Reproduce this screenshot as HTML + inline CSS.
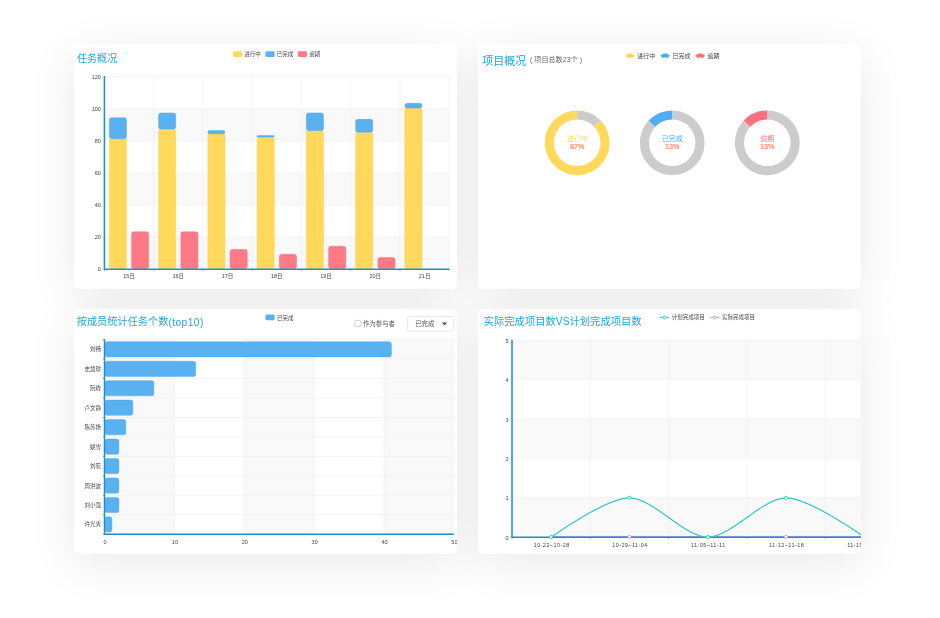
<!DOCTYPE html>
<html lang="zh-CN">
<head>
<meta charset="utf-8">
<title>项目统计</title>
<style>
html,body{margin:0;padding:0;}
body{width:940px;height:618px;overflow:hidden;background:#fff;position:relative;font-family:'Liberation Sans', 'Noto Sans CJK SC', sans-serif;}
.card{position:absolute;width:383px;height:245px;background:#fff;border-radius:5px;box-shadow:0 10px 48px rgba(0,0,0,.085);}
.cardface{position:absolute;width:383px;height:245px;background:#fff;border-radius:5px;}
svg.charts{position:absolute;left:0;top:0;}
svg.charts text{font-family:'Liberation Sans', 'Noto Sans CJK SC', sans-serif;filter:url(#soft);}
</style>
</head>
<body>
<div class="card" style="left:74px;top:44px"></div>
<div class="card" style="left:478px;top:44px"></div>
<div class="card" style="left:74px;top:309px"></div>
<div class="card" style="left:478px;top:309px"></div>
<div class="cardface" style="left:74px;top:44px"></div>
<div class="cardface" style="left:478px;top:44px"></div>
<div class="cardface" style="left:74px;top:309px"></div>
<div class="cardface" style="left:478px;top:309px"></div>
<svg class="charts" width="940" height="618" viewBox="0 0 940 618">
<defs><filter id="soft" x="-5%" y="-30%" width="110%" height="160%"><feGaussianBlur stdDeviation="2.6"/></filter></defs>
<svg x="74" y="44" width="383" height="245" viewBox="74 44 383 245">
<text transform="translate(76.9 58.1) scale(0.1)" font-size="101" fill="#1fa6de" text-anchor="start" dominant-baseline="central">任务概况</text>
<rect x="104.4" y="237.08" width="344.8" height="32.12" fill="#f9f9f9"/>
<rect x="104.4" y="172.85" width="344.8" height="32.12" fill="#f9f9f9"/>
<rect x="104.4" y="108.62" width="344.8" height="32.12" fill="#f9f9f9"/>
<line x1="104.4" y1="237.08" x2="449.2" y2="237.08" stroke="#eeeeee" stroke-width="0.6"/>
<line x1="104.4" y1="204.97" x2="449.2" y2="204.97" stroke="#eeeeee" stroke-width="0.6"/>
<line x1="104.4" y1="172.85" x2="449.2" y2="172.85" stroke="#eeeeee" stroke-width="0.6"/>
<line x1="104.4" y1="140.73" x2="449.2" y2="140.73" stroke="#eeeeee" stroke-width="0.6"/>
<line x1="104.4" y1="108.62" x2="449.2" y2="108.62" stroke="#eeeeee" stroke-width="0.6"/>
<line x1="104.4" y1="76.5" x2="449.2" y2="76.5" stroke="#eeeeee" stroke-width="0.6"/>
<line x1="153.66" y1="76.5" x2="153.66" y2="269.2" stroke="#eeeeee" stroke-width="0.6"/>
<line x1="202.91" y1="76.5" x2="202.91" y2="269.2" stroke="#eeeeee" stroke-width="0.6"/>
<line x1="252.17" y1="76.5" x2="252.17" y2="269.2" stroke="#eeeeee" stroke-width="0.6"/>
<line x1="301.43" y1="76.5" x2="301.43" y2="269.2" stroke="#eeeeee" stroke-width="0.6"/>
<line x1="350.69" y1="76.5" x2="350.69" y2="269.2" stroke="#eeeeee" stroke-width="0.6"/>
<line x1="399.94" y1="76.5" x2="399.94" y2="269.2" stroke="#eeeeee" stroke-width="0.6"/>
<line x1="449.2" y1="76.5" x2="449.2" y2="269.2" stroke="#eeeeee" stroke-width="0.6"/>
<text transform="translate(100.9 269.2) scale(0.1)" font-size="55" fill="#444" text-anchor="end" dominant-baseline="central">0</text>
<text transform="translate(100.9 237.08) scale(0.1)" font-size="55" fill="#444" text-anchor="end" dominant-baseline="central">20</text>
<text transform="translate(100.9 204.97) scale(0.1)" font-size="55" fill="#444" text-anchor="end" dominant-baseline="central">40</text>
<text transform="translate(100.9 172.85) scale(0.1)" font-size="55" fill="#444" text-anchor="end" dominant-baseline="central">60</text>
<text transform="translate(100.9 140.73) scale(0.1)" font-size="55" fill="#444" text-anchor="end" dominant-baseline="central">80</text>
<text transform="translate(100.9 108.62) scale(0.1)" font-size="55" fill="#444" text-anchor="end" dominant-baseline="central">100</text>
<text transform="translate(100.9 76.5) scale(0.1)" font-size="55" fill="#444" text-anchor="end" dominant-baseline="central">120</text>
<rect x="109.33" y="138.63" width="17.13" height="130.07" fill="#ffd85c" rx="2.2" stroke="#ffd044" stroke-width="0.45"/>
<rect x="109.33" y="117.75" width="17.13" height="20.88" fill="#5ab1ef" rx="2.2" stroke="#49a7ee" stroke-width="0.45"/>
<rect x="131.6" y="231.77" width="17.13" height="36.93" fill="#ff7a85" rx="2.2" stroke="#ff6675" stroke-width="0.45"/>
<rect x="158.58" y="128.99" width="17.13" height="139.71" fill="#ffd85c" rx="2.2" stroke="#ffd044" stroke-width="0.45"/>
<rect x="158.58" y="112.93" width="17.13" height="16.06" fill="#5ab1ef" rx="2.2" stroke="#49a7ee" stroke-width="0.45"/>
<rect x="180.86" y="231.77" width="17.13" height="36.93" fill="#ff7a85" rx="2.2" stroke="#ff6675" stroke-width="0.45"/>
<rect x="207.84" y="133.81" width="17.13" height="134.89" fill="#ffd85c" rx="2.2" stroke="#ffd044" stroke-width="0.45"/>
<rect x="207.84" y="130.6" width="17.13" height="3.21" fill="#5ab1ef" rx="1.61" stroke="#49a7ee" stroke-width="0.45"/>
<rect x="230.11" y="249.43" width="17.13" height="19.27" fill="#ff7a85" rx="2.2" stroke="#ff6675" stroke-width="0.45"/>
<rect x="257.1" y="137.02" width="17.13" height="131.68" fill="#ffd85c" rx="2.2" stroke="#ffd044" stroke-width="0.45"/>
<rect x="257.1" y="135.42" width="17.13" height="1.61" fill="#5ab1ef" rx="0.8" stroke="#49a7ee" stroke-width="0.45"/>
<rect x="279.37" y="254.25" width="17.13" height="14.45" fill="#ff7a85" rx="2.2" stroke="#ff6675" stroke-width="0.45"/>
<rect x="306.35" y="130.6" width="17.13" height="138.1" fill="#ffd85c" rx="2.2" stroke="#ffd044" stroke-width="0.45"/>
<rect x="306.35" y="112.93" width="17.13" height="17.66" fill="#5ab1ef" rx="2.2" stroke="#49a7ee" stroke-width="0.45"/>
<rect x="328.63" y="246.22" width="17.13" height="22.48" fill="#ff7a85" rx="2.2" stroke="#ff6675" stroke-width="0.45"/>
<rect x="355.61" y="132.2" width="17.13" height="136.5" fill="#ffd85c" rx="2.2" stroke="#ffd044" stroke-width="0.45"/>
<rect x="355.61" y="119.36" width="17.13" height="12.85" fill="#5ab1ef" rx="2.2" stroke="#49a7ee" stroke-width="0.45"/>
<rect x="377.88" y="257.46" width="17.13" height="11.24" fill="#ff7a85" rx="2.2" stroke="#ff6675" stroke-width="0.45"/>
<rect x="404.87" y="108.12" width="17.13" height="160.58" fill="#ffd85c" rx="2.2" stroke="#ffd044" stroke-width="0.45"/>
<rect x="404.87" y="103.3" width="17.13" height="4.82" fill="#5ab1ef" rx="2.2" stroke="#49a7ee" stroke-width="0.45"/>
<line x1="104.4" y1="269.2" x2="104.4" y2="270.8" stroke="#333" stroke-width="0.5"/>
<line x1="153.66" y1="269.2" x2="153.66" y2="270.8" stroke="#333" stroke-width="0.5"/>
<line x1="202.91" y1="269.2" x2="202.91" y2="270.8" stroke="#333" stroke-width="0.5"/>
<line x1="252.17" y1="269.2" x2="252.17" y2="270.8" stroke="#333" stroke-width="0.5"/>
<line x1="301.43" y1="269.2" x2="301.43" y2="270.8" stroke="#333" stroke-width="0.5"/>
<line x1="350.69" y1="269.2" x2="350.69" y2="270.8" stroke="#333" stroke-width="0.5"/>
<line x1="399.94" y1="269.2" x2="399.94" y2="270.8" stroke="#333" stroke-width="0.5"/>
<line x1="449.2" y1="269.2" x2="449.2" y2="270.8" stroke="#333" stroke-width="0.5"/>
<line x1="104.4" y1="76" x2="104.4" y2="269.7" stroke="#1490d3" stroke-width="1.5"/>
<line x1="103.9" y1="269.2" x2="449.2" y2="269.2" stroke="#1490d3" stroke-width="1.5"/>
<text transform="translate(129.03 276.3) scale(0.1)" font-size="55" fill="#444" text-anchor="middle" dominant-baseline="central">15日</text>
<text transform="translate(178.29 276.3) scale(0.1)" font-size="55" fill="#444" text-anchor="middle" dominant-baseline="central">16日</text>
<text transform="translate(227.54 276.3) scale(0.1)" font-size="55" fill="#444" text-anchor="middle" dominant-baseline="central">17日</text>
<text transform="translate(276.8 276.3) scale(0.1)" font-size="55" fill="#444" text-anchor="middle" dominant-baseline="central">18日</text>
<text transform="translate(326.06 276.3) scale(0.1)" font-size="55" fill="#444" text-anchor="middle" dominant-baseline="central">19日</text>
<text transform="translate(375.31 276.3) scale(0.1)" font-size="55" fill="#444" text-anchor="middle" dominant-baseline="central">20日</text>
<text transform="translate(424.57 276.3) scale(0.1)" font-size="55" fill="#444" text-anchor="middle" dominant-baseline="central">21日</text>
<rect x="233" y="51.3" width="9.2" height="5.6" fill="#ffd85c" rx="1.3"/>
<text transform="translate(244.3 54.4) scale(0.1)" font-size="55" fill="#444" text-anchor="start" dominant-baseline="central">进行中</text>
<rect x="265.4" y="51.3" width="9.2" height="5.6" fill="#5ab1ef" rx="1.3"/>
<text transform="translate(276.7 54.4) scale(0.1)" font-size="55" fill="#444" text-anchor="start" dominant-baseline="central">已完成</text>
<rect x="297.9" y="51.3" width="9.2" height="5.6" fill="#ff7a85" rx="1.3"/>
<text transform="translate(309.2 54.4) scale(0.1)" font-size="55" fill="#444" text-anchor="start" dominant-baseline="central">逾期</text>
</svg>
<svg x="478" y="44" width="383" height="245" viewBox="478 44 383 245">
<text transform="translate(482.2 60.7) scale(0.1)" font-size="110" fill="#1fa6de" text-anchor="start" dominant-baseline="central">项目概况</text>
<text transform="translate(530 60.2) scale(0.1)" font-size="71" fill="#666" text-anchor="start" dominant-baseline="central">( 项目总数23个 )</text>
<path d="M577.2 110.4A32.4 32.4 0 0 1 600.82 120.62L594.18 126.85A23.3 23.3 0 0 0 577.2 119.5Z" fill="#cccccc"/>
<path d="M600.82 120.62A32.4 32.4 0 1 1 577.2 110.4L577.2 119.5A23.3 23.3 0 1 0 594.18 126.85Z" fill="#ffd85c"/>
<text transform="translate(577.2 138.3) scale(0.1)" font-size="70" fill="#ffd85c" text-anchor="middle" dominant-baseline="central">进行中</text>
<text transform="translate(577.2 146.8) scale(0.1)" font-size="72" fill="#ff7f50" text-anchor="middle" dominant-baseline="central" stroke="#ff7f50" stroke-width="1.5">87%</text>
<path d="M672.2 110.4A32.4 32.4 0 1 1 648.58 120.62L655.22 126.85A23.3 23.3 0 1 0 672.2 119.5Z" fill="#cccccc"/>
<path d="M648.58 120.62A32.4 32.4 0 0 1 672.2 110.4L672.2 119.5A23.3 23.3 0 0 0 655.22 126.85Z" fill="#4eaef5"/>
<text transform="translate(672.2 138.3) scale(0.1)" font-size="70" fill="#4eaef5" text-anchor="middle" dominant-baseline="central">已完成</text>
<text transform="translate(672.2 146.8) scale(0.1)" font-size="72" fill="#ff7f50" text-anchor="middle" dominant-baseline="central" stroke="#ff7f50" stroke-width="1.5">13%</text>
<path d="M767.3 110.4A32.4 32.4 0 1 1 743.68 120.62L750.32 126.85A23.3 23.3 0 1 0 767.3 119.5Z" fill="#cccccc"/>
<path d="M743.68 120.62A32.4 32.4 0 0 1 767.3 110.4L767.3 119.5A23.3 23.3 0 0 0 750.32 126.85Z" fill="#ff6f7d"/>
<text transform="translate(767.3 138.3) scale(0.1)" font-size="70" fill="#ff6f7d" text-anchor="middle" dominant-baseline="central">逾期</text>
<text transform="translate(767.3 146.8) scale(0.1)" font-size="72" fill="#ff7f50" text-anchor="middle" dominant-baseline="central" stroke="#ff7f50" stroke-width="1.5">13%</text>
<path d="M625.4 55.5Q630 51.7 634.6 55.5L632.6 58Q630 56.4 627.4 58Z" fill="#ffd85c" stroke="#ffd85c" stroke-width="0.4" stroke-linejoin="round"/>
<text transform="translate(637.3 55.8) scale(0.1)" font-size="60" fill="#444" text-anchor="start" dominant-baseline="central">进行中</text>
<path d="M660.5 55.5Q665.1 51.7 669.7 55.5L667.7 58Q665.1 56.4 662.5 58Z" fill="#4eaef5" stroke="#4eaef5" stroke-width="0.4" stroke-linejoin="round"/>
<text transform="translate(672.4 55.8) scale(0.1)" font-size="60" fill="#444" text-anchor="start" dominant-baseline="central">已完成</text>
<path d="M695.6 55.5Q700.2 51.7 704.8 55.5L702.8 58Q700.2 56.4 697.6 58Z" fill="#ff6f7d" stroke="#ff6f7d" stroke-width="0.4" stroke-linejoin="round"/>
<text transform="translate(707.5 55.8) scale(0.1)" font-size="60" fill="#444" text-anchor="start" dominant-baseline="central">逾期</text>
</svg>
<svg x="74" y="309" width="383" height="245" viewBox="74 309 383 245">
<text transform="translate(76.7 321.9) scale(0.1)" font-size="102" fill="#1fa6de" text-anchor="start" dominant-baseline="central">按成员统计任务个数<tspan letter-spacing="4.4">(top10)</tspan></text>
<rect x="104.5" y="339.6" width="69.88" height="194.6" fill="#f9f9f9"/>
<rect x="244.26" y="339.6" width="69.88" height="194.6" fill="#f9f9f9"/>
<rect x="384.02" y="339.6" width="69.88" height="194.6" fill="#f9f9f9"/>
<line x1="174.38" y1="339.6" x2="174.38" y2="534.2" stroke="#eeeeee" stroke-width="0.6"/>
<line x1="244.26" y1="339.6" x2="244.26" y2="534.2" stroke="#eeeeee" stroke-width="0.6"/>
<line x1="314.14" y1="339.6" x2="314.14" y2="534.2" stroke="#eeeeee" stroke-width="0.6"/>
<line x1="384.02" y1="339.6" x2="384.02" y2="534.2" stroke="#eeeeee" stroke-width="0.6"/>
<line x1="453.9" y1="339.6" x2="453.9" y2="534.2" stroke="#eeeeee" stroke-width="0.6"/>
<line x1="104.5" y1="339.6" x2="453.9" y2="339.6" stroke="#eeeeee" stroke-width="0.6"/>
<line x1="104.5" y1="359.06" x2="453.9" y2="359.06" stroke="#eeeeee" stroke-width="0.6"/>
<line x1="104.5" y1="378.52" x2="453.9" y2="378.52" stroke="#eeeeee" stroke-width="0.6"/>
<line x1="104.5" y1="397.98" x2="453.9" y2="397.98" stroke="#eeeeee" stroke-width="0.6"/>
<line x1="104.5" y1="417.44" x2="453.9" y2="417.44" stroke="#eeeeee" stroke-width="0.6"/>
<line x1="104.5" y1="436.9" x2="453.9" y2="436.9" stroke="#eeeeee" stroke-width="0.6"/>
<line x1="104.5" y1="456.36" x2="453.9" y2="456.36" stroke="#eeeeee" stroke-width="0.6"/>
<line x1="104.5" y1="475.82" x2="453.9" y2="475.82" stroke="#eeeeee" stroke-width="0.6"/>
<line x1="104.5" y1="495.28" x2="453.9" y2="495.28" stroke="#eeeeee" stroke-width="0.6"/>
<line x1="104.5" y1="514.74" x2="453.9" y2="514.74" stroke="#eeeeee" stroke-width="0.6"/>
<rect x="105.1" y="341.73" width="286.31" height="15.2" fill="#5ab1ef" rx="2.2" stroke="#49a7ee" stroke-width="0.45"/>
<text transform="translate(100.9 349.33) scale(0.1)" font-size="55" fill="#444" text-anchor="end" dominant-baseline="central">刘畅</text>
<rect x="105.1" y="361.19" width="90.64" height="15.2" fill="#5ab1ef" rx="2.2" stroke="#49a7ee" stroke-width="0.45"/>
<text transform="translate(100.9 368.79) scale(0.1)" font-size="55" fill="#444" text-anchor="end" dominant-baseline="central">史慧璟</text>
<rect x="105.1" y="380.65" width="48.72" height="15.2" fill="#5ab1ef" rx="2.2" stroke="#49a7ee" stroke-width="0.45"/>
<text transform="translate(100.9 388.25) scale(0.1)" font-size="55" fill="#444" text-anchor="end" dominant-baseline="central">阮峰</text>
<rect x="105.1" y="400.11" width="27.75" height="15.2" fill="#5ab1ef" rx="2.2" stroke="#49a7ee" stroke-width="0.45"/>
<text transform="translate(100.9 407.71) scale(0.1)" font-size="55" fill="#444" text-anchor="end" dominant-baseline="central">卢文静</text>
<rect x="105.1" y="419.57" width="20.76" height="15.2" fill="#5ab1ef" rx="2.2" stroke="#49a7ee" stroke-width="0.45"/>
<text transform="translate(100.9 427.17) scale(0.1)" font-size="55" fill="#444" text-anchor="end" dominant-baseline="central">陈苏艳</text>
<rect x="105.1" y="439.03" width="13.78" height="15.2" fill="#5ab1ef" rx="2.2" stroke="#49a7ee" stroke-width="0.45"/>
<text transform="translate(100.9 446.63) scale(0.1)" font-size="55" fill="#444" text-anchor="end" dominant-baseline="central">姚雪</text>
<rect x="105.1" y="458.49" width="13.78" height="15.2" fill="#5ab1ef" rx="2.2" stroke="#49a7ee" stroke-width="0.45"/>
<text transform="translate(100.9 466.09) scale(0.1)" font-size="55" fill="#444" text-anchor="end" dominant-baseline="central">刘晓</text>
<rect x="105.1" y="477.95" width="13.78" height="15.2" fill="#5ab1ef" rx="2.2" stroke="#49a7ee" stroke-width="0.45"/>
<text transform="translate(100.9 485.55) scale(0.1)" font-size="55" fill="#444" text-anchor="end" dominant-baseline="central">周洪波</text>
<rect x="105.1" y="497.41" width="13.78" height="15.2" fill="#5ab1ef" rx="2.2" stroke="#49a7ee" stroke-width="0.45"/>
<text transform="translate(100.9 505.01) scale(0.1)" font-size="55" fill="#444" text-anchor="end" dominant-baseline="central">刘小强</text>
<rect x="105.1" y="516.87" width="6.79" height="15.2" fill="#5ab1ef" rx="2.2" stroke="#49a7ee" stroke-width="0.45"/>
<text transform="translate(100.9 524.47) scale(0.1)" font-size="55" fill="#444" text-anchor="end" dominant-baseline="central">许光秀</text>
<line x1="102.9" y1="339.6" x2="104.5" y2="339.6" stroke="#333" stroke-width="0.5"/>
<line x1="102.9" y1="359.06" x2="104.5" y2="359.06" stroke="#333" stroke-width="0.5"/>
<line x1="102.9" y1="378.52" x2="104.5" y2="378.52" stroke="#333" stroke-width="0.5"/>
<line x1="102.9" y1="397.98" x2="104.5" y2="397.98" stroke="#333" stroke-width="0.5"/>
<line x1="102.9" y1="417.44" x2="104.5" y2="417.44" stroke="#333" stroke-width="0.5"/>
<line x1="102.9" y1="436.9" x2="104.5" y2="436.9" stroke="#333" stroke-width="0.5"/>
<line x1="102.9" y1="456.36" x2="104.5" y2="456.36" stroke="#333" stroke-width="0.5"/>
<line x1="102.9" y1="475.82" x2="104.5" y2="475.82" stroke="#333" stroke-width="0.5"/>
<line x1="102.9" y1="495.28" x2="104.5" y2="495.28" stroke="#333" stroke-width="0.5"/>
<line x1="102.9" y1="514.74" x2="104.5" y2="514.74" stroke="#333" stroke-width="0.5"/>
<line x1="102.9" y1="534.2" x2="104.5" y2="534.2" stroke="#333" stroke-width="0.5"/>
<line x1="104.5" y1="339.1" x2="104.5" y2="534.7" stroke="#1490d3" stroke-width="1.5"/>
<line x1="104" y1="534.2" x2="453.9" y2="534.2" stroke="#1490d3" stroke-width="1.5"/>
<text transform="translate(105 541.7) scale(0.1)" font-size="55" fill="#444" text-anchor="middle" dominant-baseline="central">0</text>
<text transform="translate(174.88 541.7) scale(0.1)" font-size="55" fill="#444" text-anchor="middle" dominant-baseline="central">10</text>
<text transform="translate(244.76 541.7) scale(0.1)" font-size="55" fill="#444" text-anchor="middle" dominant-baseline="central">20</text>
<text transform="translate(314.64 541.7) scale(0.1)" font-size="55" fill="#444" text-anchor="middle" dominant-baseline="central">30</text>
<text transform="translate(384.52 541.7) scale(0.1)" font-size="55" fill="#444" text-anchor="middle" dominant-baseline="central">40</text>
<text transform="translate(454.4 541.7) scale(0.1)" font-size="55" fill="#444" text-anchor="middle" dominant-baseline="central">50</text>
<rect x="265.4" y="314.6" width="9.2" height="5.6" fill="#5ab1ef" rx="1.3"/>
<text transform="translate(276.9 317.5) scale(0.1)" font-size="55" fill="#444" text-anchor="start" dominant-baseline="central">已完成</text>
<rect x="354.7" y="320.4" width="6.2" height="6.2" rx="1" fill="#fff" stroke="#b7cbd8" stroke-width="0.8"/>
<text transform="translate(363 323.6) scale(0.1)" font-size="64" fill="#555" text-anchor="start" dominant-baseline="central">作为参与者</text>
<rect x="407.6" y="316.4" width="45.9" height="14.8" rx="2" fill="#fff" stroke="#dddddd" stroke-width="0.7"/>
<text transform="translate(415.2 323.9) scale(0.1)" font-size="64" fill="#555" text-anchor="start" dominant-baseline="central">已完成</text>
<path d="M441.9 322.6h5.2l-2.6 2.9z" fill="#555"/>
</svg>
<svg x="478" y="309" width="383" height="245" viewBox="478 309 383 245">
<text transform="translate(483.7 321.8) scale(0.1)" font-size="103" fill="#1fa6de" text-anchor="start" dominant-baseline="central">实际完成项目数VS计划完成项目数</text>
<rect x="512" y="497.8" width="391.5" height="39.4" fill="#f9f9f9"/>
<rect x="512" y="419" width="391.5" height="39.4" fill="#f9f9f9"/>
<rect x="512" y="340.2" width="391.5" height="39.4" fill="#f9f9f9"/>
<line x1="512" y1="497.8" x2="903.5" y2="497.8" stroke="#eeeeee" stroke-width="0.6"/>
<line x1="512" y1="458.4" x2="903.5" y2="458.4" stroke="#eeeeee" stroke-width="0.6"/>
<line x1="512" y1="419" x2="903.5" y2="419" stroke="#eeeeee" stroke-width="0.6"/>
<line x1="512" y1="379.6" x2="903.5" y2="379.6" stroke="#eeeeee" stroke-width="0.6"/>
<line x1="512" y1="340.2" x2="903.5" y2="340.2" stroke="#eeeeee" stroke-width="0.6"/>
<line x1="590.3" y1="340.2" x2="590.3" y2="537.2" stroke="#eeeeee" stroke-width="0.6"/>
<line x1="668.6" y1="340.2" x2="668.6" y2="537.2" stroke="#eeeeee" stroke-width="0.6"/>
<line x1="746.9" y1="340.2" x2="746.9" y2="537.2" stroke="#eeeeee" stroke-width="0.6"/>
<line x1="825.2" y1="340.2" x2="825.2" y2="537.2" stroke="#eeeeee" stroke-width="0.6"/>
<line x1="903.5" y1="340.2" x2="903.5" y2="537.2" stroke="#eeeeee" stroke-width="0.6"/>
<text transform="translate(508.6 537.7) scale(0.1)" font-size="55" fill="#444" text-anchor="end" dominant-baseline="central">0</text>
<text transform="translate(508.6 498.3) scale(0.1)" font-size="55" fill="#444" text-anchor="end" dominant-baseline="central">1</text>
<text transform="translate(508.6 458.9) scale(0.1)" font-size="55" fill="#444" text-anchor="end" dominant-baseline="central">2</text>
<text transform="translate(508.6 419.5) scale(0.1)" font-size="55" fill="#444" text-anchor="end" dominant-baseline="central">3</text>
<text transform="translate(508.6 380.1) scale(0.1)" font-size="55" fill="#444" text-anchor="end" dominant-baseline="central">4</text>
<text transform="translate(508.6 340.7) scale(0.1)" font-size="55" fill="#444" text-anchor="end" dominant-baseline="central">5</text>
<line x1="512" y1="537.2" x2="512" y2="538.8" stroke="#333" stroke-width="0.5"/>
<line x1="590.3" y1="537.2" x2="590.3" y2="538.8" stroke="#333" stroke-width="0.5"/>
<line x1="668.6" y1="537.2" x2="668.6" y2="538.8" stroke="#333" stroke-width="0.5"/>
<line x1="746.9" y1="537.2" x2="746.9" y2="538.8" stroke="#333" stroke-width="0.5"/>
<line x1="825.2" y1="537.2" x2="825.2" y2="538.8" stroke="#333" stroke-width="0.5"/>
<line x1="903.5" y1="537.2" x2="903.5" y2="538.8" stroke="#333" stroke-width="0.5"/>
<line x1="551.15" y1="536.45" x2="864.35" y2="536.45" stroke="#b6a2de" stroke-width="0.9"/>
<line x1="512" y1="339.7" x2="512" y2="537.7" stroke="#1490d3" stroke-width="1.5"/>
<line x1="511.5" y1="537.2" x2="903.5" y2="537.2" stroke="#1490d3" stroke-width="1.5"/>
<text transform="translate(551.65 545.4) scale(0.1)" font-size="55" fill="#444" text-anchor="middle" dominant-baseline="central" letter-spacing="4.2">10-22~10-28</text>
<text transform="translate(629.95 545.4) scale(0.1)" font-size="55" fill="#444" text-anchor="middle" dominant-baseline="central" letter-spacing="4.2">10-29~11-04</text>
<text transform="translate(708.25 545.4) scale(0.1)" font-size="55" fill="#444" text-anchor="middle" dominant-baseline="central" letter-spacing="4.2">11-05~11-11</text>
<text transform="translate(786.55 545.4) scale(0.1)" font-size="55" fill="#444" text-anchor="middle" dominant-baseline="central" letter-spacing="4.2">11-12~11-18</text>
<text transform="translate(864.85 545.4) scale(0.1)" font-size="55" fill="#444" text-anchor="middle" dominant-baseline="central" letter-spacing="4.2">11-19~11-25</text>
<path d="M551.15 537.2C551.15 537.2 605.96 497.8 629.45 497.8C652.94 497.8 684.26 537.2 707.75 537.2C731.24 537.2 762.56 497.8 786.05 497.8C809.54 497.8 864.35 537.2 864.35 537.2" fill="none" stroke="#2ec7c9" stroke-width="1.2"/>
<circle cx="551.15" cy="536.9" r="1.6" fill="#fff" stroke="#b6a2de" stroke-width="0.9"/>
<circle cx="629.45" cy="536.9" r="1.6" fill="#fff" stroke="#b6a2de" stroke-width="0.9"/>
<circle cx="707.75" cy="536.9" r="1.6" fill="#fff" stroke="#b6a2de" stroke-width="0.9"/>
<circle cx="786.05" cy="536.9" r="1.6" fill="#fff" stroke="#b6a2de" stroke-width="0.9"/>
<circle cx="864.35" cy="536.9" r="1.6" fill="#fff" stroke="#b6a2de" stroke-width="0.9"/>
<circle cx="551.15" cy="537.2" r="1.6" fill="#fff" stroke="#2ec7c9" stroke-width="0.95"/>
<circle cx="629.45" cy="497.8" r="1.6" fill="#fff" stroke="#2ec7c9" stroke-width="0.95"/>
<circle cx="707.75" cy="537.2" r="1.6" fill="#fff" stroke="#2ec7c9" stroke-width="0.95"/>
<circle cx="786.05" cy="497.8" r="1.6" fill="#fff" stroke="#2ec7c9" stroke-width="0.95"/>
<circle cx="864.35" cy="537.2" r="1.6" fill="#fff" stroke="#2ec7c9" stroke-width="0.95"/>
<line x1="660.1" y1="317.4" x2="662.5" y2="317.4" stroke="#2ec7c9" stroke-width="1.1"/>
<line x1="666.7" y1="317.4" x2="669.1" y2="317.4" stroke="#2ec7c9" stroke-width="1.1"/>
<circle cx="664.6" cy="317.4" r="1.55" fill="#fff" stroke="#2ec7c9" stroke-width="1"/>
<text transform="translate(671.7 317.4) scale(0.1)" font-size="55" fill="#444" text-anchor="start" dominant-baseline="central">计划完成项目</text>
<line x1="710.3" y1="317.4" x2="712.7" y2="317.4" stroke="#b6a2de" stroke-width="1.1"/>
<line x1="716.9" y1="317.4" x2="719.3" y2="317.4" stroke="#b6a2de" stroke-width="1.1"/>
<circle cx="714.8" cy="317.4" r="1.55" fill="#fff" stroke="#b6a2de" stroke-width="1"/>
<text transform="translate(721.9 317.4) scale(0.1)" font-size="55" fill="#444" text-anchor="start" dominant-baseline="central">实际完成项目</text>
</svg>
</svg>
</body>
</html>
